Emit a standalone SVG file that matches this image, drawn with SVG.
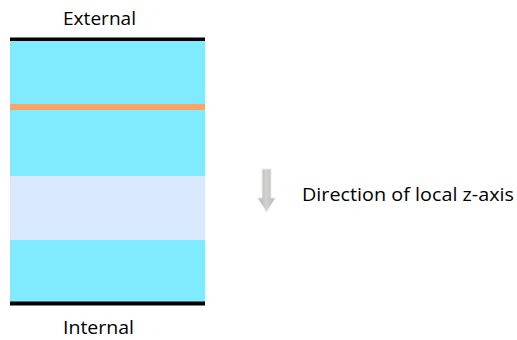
<svg xmlns="http://www.w3.org/2000/svg" width="517" height="340" viewBox="0 0 517 340">
<style>
.t{font-family:"Open Sans","Liberation Sans",sans-serif;font-size:17.5px;fill:#000}
.c{fill:#80EAFF}
</style>
<defs>
<linearGradient id="ag" x1="0" y1="0" x2="1" y2="0">
<stop offset="0" stop-color="#b4b4b6"/>
<stop offset="0.5" stop-color="#d2d2d4"/>
<stop offset="1" stop-color="#b4b4b6"/>
</linearGradient>
</defs>
<rect width="517" height="340" fill="#fff"/>
<g id="layers">
<rect class="c" x="10" y="40" width="195" height="65"/>
<rect x="10" y="104" width="195" height="6" fill="#F9A46A"/>
<rect class="c" x="10" y="110" width="195" height="66"/>
<rect x="10" y="176" width="195" height="64" fill="#D7E8FF"/>
<rect class="c" x="10" y="240" width="195" height="62"/>
<rect x="10" y="37.5" width="195" height="3.5" fill="#000"/>
<rect x="10" y="301.5" width="195" height="4" fill="#000"/>
</g>
<g id="labels">
<text class="t" x="63" y="25" textLength="73" lengthAdjust="spacingAndGlyphs">External</text>
<text class="t" x="63" y="334" textLength="71" lengthAdjust="spacingAndGlyphs">Internal</text>
</g>
<g id="legend">
<path d="M262,169 H271 V198 H275.5 L266.5,212 L257.5,198 H262 Z" fill="url(#ag)" stroke="#f3ecdc" stroke-width="1"/>
<text class="t" x="302" y="201" textLength="212" lengthAdjust="spacingAndGlyphs">Direction of local z-axis</text>
</g>
</svg>
